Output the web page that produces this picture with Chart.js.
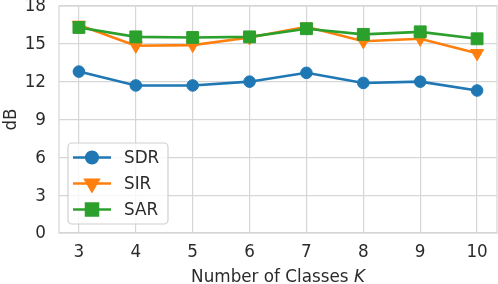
<!DOCTYPE html>
<html>
<head>
<meta charset="utf-8">
<script src="https://cdn.jsdelivr.net/npm/chart.js@4/dist/chart.umd.min.js"></script>
<style>
  html, body { margin: 0; padding: 0; background: #ffffff; }
  #wrap { width: 498px; height: 284px; }
</style>
</head>
<body>
<div id="wrap"><canvas id="c" width="498" height="284"></canvas></div>
<script>
// ---- data ----
const classes = [3, 4, 5, 6, 7, 8, 9, 10];
const sdr = [12.8, 11.7, 11.7, 12.0, 12.7, 11.9, 12.0, 11.3];
const sir = [16.5, 14.85, 14.9, 15.5, 16.35, 15.2, 15.4, 14.25];
const sar = [16.3, 15.55, 15.5, 15.55, 16.2, 15.75, 15.95, 15.4];
const yTicks = [0, 3, 6, 9, 12, 15, 18];
const seriesNames = ['SDR', 'SIR', 'SAR'];
const xTitle = 'Number of Classes ';
const xTitleVar = 'K';
const yTitle = 'dB';

const FONT = '"DejaVu Sans", sans-serif';
const TXT = '#2b2b2b';
const GRID = '#d6d6d6';
const FS = 16.8;

function pts(arr) { return classes.map((x, i) => ({ x: x, y: arr[i] })); }

const datasets = [
  { label: seriesNames[0], data: pts(sdr), borderColor: '#1f77b4', backgroundColor: '#1f77b4',
    pointStyle: 'circle', pointRadius: 5.8, pointRotation: 0, order: 2 },
  { label: seriesNames[1], data: pts(sir), borderColor: '#ff7f0e', backgroundColor: '#ff7f0e',
    pointStyle: 'triangle', pointRadius: 7.5, pointRotation: 180, order: 1 },
  { label: seriesNames[2], data: pts(sar), borderColor: '#2ca02c', backgroundColor: '#2ca02c',
    pointStyle: 'rect', pointRadius: 8.4, pointRotation: 0, order: 0 }
].map(d => Object.assign(d, {
  borderWidth: 2.6, pointBorderWidth: 1, pointHoverRadius: d.pointRadius, tension: 0, fill: false, clip: false
}));

const decor = {
  id: 'decor',
  beforeDatasetsDraw(chart) {
    const a = chart.chartArea, ctx = chart.ctx;
    ctx.save();
    ctx.strokeStyle = GRID; ctx.lineWidth = 1.2;
    ctx.strokeRect(a.left, a.top, a.right - a.left, a.bottom - a.top);
    ctx.restore();
  },
  afterDraw(chart) {
    const a = chart.chartArea, ctx = chart.ctx;
    ctx.save();
    ctx.fillStyle = TXT;
    ctx.textBaseline = 'alphabetic';
    const f1 = FS + 'px ' + FONT, f2 = 'italic ' + FS + 'px ' + FONT;
    ctx.font = f1; const w1 = ctx.measureText(xTitle).width;
    ctx.font = f2; const w2 = ctx.measureText(xTitleVar).width;
    const cx = (a.left + a.right) / 2;
    let sx = cx - (w1 + w2) / 2;
    ctx.font = f1; ctx.textAlign = 'left'; ctx.fillText(xTitle, sx, 282);
    ctx.font = f2; ctx.fillText(xTitleVar, sx + w1, 282);
    // y title
    ctx.save();
    ctx.translate(16, (a.top + a.bottom) / 2);
    ctx.rotate(-Math.PI / 2);
    ctx.font = f1; ctx.textAlign = 'center'; ctx.textBaseline = 'alphabetic';
    ctx.fillText(yTitle, 0, 0);
    ctx.restore();
    // legend
    const lx = 68, ly = 143, lw = 100, lh = 81;
    ctx.beginPath();
    if (ctx.roundRect) ctx.roundRect(lx, ly, lw, lh, 4); else ctx.rect(lx, ly, lw, lh);
    ctx.fillStyle = 'rgba(255,255,255,0.8)';
    ctx.fill();
    ctx.strokeStyle = '#d0d0d0'; ctx.lineWidth = 1.2;
    ctx.stroke();
    chart.data.datasets.forEach((ds, i) => {
      const y = 157.5 + i * 26;
      ctx.strokeStyle = ds.borderColor; ctx.lineWidth = 2.6;
      ctx.beginPath(); ctx.moveTo(73, y); ctx.lineTo(111, y); ctx.stroke();
      ctx.fillStyle = ds.backgroundColor;
      Chart.helpers.drawPoint(ctx, {
        pointStyle: ds.pointStyle, radius: ds.pointRadius, rotation: ds.pointRotation, borderWidth: 1
      }, 92, y);
      ctx.fillStyle = TXT; ctx.font = f1; ctx.textAlign = 'left'; ctx.textBaseline = 'middle';
      ctx.fillText(ds.label, 124, y + 1);
    });
    ctx.restore();
  }
};

function noPad(s) { s.paddingTop = 0; s.paddingBottom = 0; s.paddingLeft = 0; s.paddingRight = 0; }

new Chart(document.getElementById('c'), {
  type: 'line',
  data: { datasets: datasets },
  options: {
    responsive: false,
    animation: false,
    devicePixelRatio: 1,
    layout: { autoPadding: false, padding: { top: 6, right: 1, left: 0, bottom: 0 } },
    plugins: { legend: { display: false }, tooltip: { enabled: false } },
    scales: {
      x: {
        type: 'linear', min: 2.65, max: 10.35,
        afterBuildTicks(s) { s.ticks = classes.map(v => ({ value: v })); },
        afterFit(s) { s.height = 51; noPad(s); },
        grid: { color: GRID, lineWidth: 1.2, drawTicks: false },
        border: { display: false },
        ticks: { color: TXT, font: { family: FONT, size: FS }, padding: 10, maxRotation: 0, autoSkip: false,
          callback: v => String(v) }
      },
      y: {
        type: 'linear', min: 0, max: 18,
        afterBuildTicks(s) { s.ticks = yTicks.map(v => ({ value: v })); },
        afterFit(s) { s.width = 59; noPad(s); },
        grid: { color: GRID, lineWidth: 1.2, drawTicks: false },
        border: { display: false },
        ticks: { color: TXT, font: { family: FONT, size: FS }, padding: 13, labelOffset: 1, autoSkip: false,
          callback: v => String(v) }
      }
    }
  },
  plugins: [decor]
});
</script>
</body>
</html>
